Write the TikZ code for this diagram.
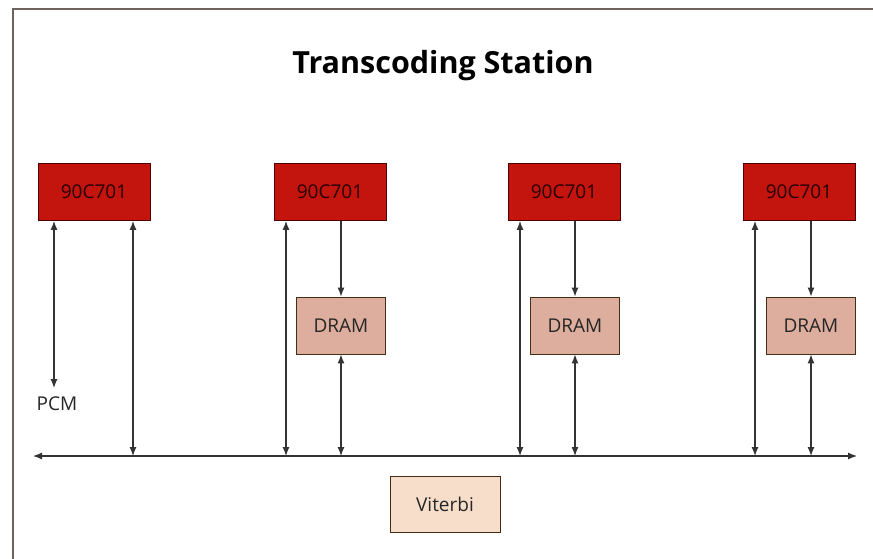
\documentclass[tikz,border=0pt]{standalone}
\usepackage{fontspec}
\setmainfont{Open Sans}
\usetikzlibrary{arrows.meta}
\definecolor{chipred}{HTML}{C4140E}
\definecolor{dramfill}{HTML}{DDAE9E}
\definecolor{vitfill}{HTML}{F6DECB}
\definecolor{framecol}{HTML}{6E625C}
\definecolor{linecol}{HTML}{333333}
\tikzset{
  chip/.style={draw=black!70!red, line width=0.8pt, fill=chipred, minimum width=112pt, minimum height=57pt, inner sep=0pt, text=black!85!red, font=\fontsize{19}{19}\selectfont},
  ram/.style={draw=black!65!brown, line width=0.8pt, fill=dramfill, minimum width=89pt, minimum height=57pt, inner sep=0pt, text=black!85, font=\fontsize{19}{19}\selectfont},
  vit/.style={draw=black!65!brown, line width=0.8pt, fill=vitfill, minimum width=110pt, minimum height=56pt, inner sep=0pt, text=black!85, font=\fontsize{19}{19}\selectfont},
  link/.style={draw=linecol, line width=1.2pt, -{Latex[length=9pt,width=7pt]}},
  dbl/.style={draw=linecol, line width=1.2pt, {Latex[length=9pt,width=7pt]}-{Latex[length=9pt,width=7pt]}}
}
\begin{document}
\begin{tikzpicture}[x=1pt,y=-1pt]
\useasboundingbox (0,0) rectangle (873,559);
\fill[white] (0,0) rectangle (873,559);
% frame
\draw[framecol, line width=1.4pt] (873,9) -- (13,9) -- (13,559);
% title
\node (title) at (443,66) {\fontsize{30.5}{30.5}\selectfont\bfseries Transcoding Station};
% processors
\node[chip] (c1) at (94,192) {90C701};
\node[chip] (c2) at (330,192) {90C701};
\node[chip] (c3) at (564,192) {90C701};
\node[chip] (c4) at (799,192) {90C701};
% memories
\node[ram] (d2) at (341,325.5) {DRAM};
\node[ram] (d3) at (575,325.5) {DRAM};
\node[ram] (d4) at (811,325.5) {DRAM};
\node[vit] (vit) at (445,504) {Viterbi};
\node[font=\fontsize{19}{19}\selectfont, text=black!85] (pcm) at (57,404) {PCM};
% bus
\coordinate (busl) at (33,456);
\coordinate (busr) at (857,456);
\draw[dbl] (busl) -- (busr);
\coordinate (p0) at (54,388);
\coordinate (b1) at (133,456);
\coordinate (b2) at (286,456);
\coordinate (b3) at (520,456);
\coordinate (b4) at (755,456);
\draw[dbl] (c1.south -| p0) -- (p0);
\draw[dbl] (c1.south -| b1) -- (b1);
\draw[dbl] (c2.south -| b2) -- (b2);
\draw[dbl] (c3.south -| b3) -- (b3);
\draw[dbl] (c4.south -| b4) -- (b4);
% chip to dram
\draw[link] (c2.south -| d2) -- (d2.north);
\draw[link] (c3.south -| d3) -- (d3.north);
\draw[link] (c4.south -| d4) -- (d4.north);
\draw[dbl] (d2.south) -- (d2.south |- busl);
\draw[dbl] (d3.south) -- (d3.south |- busl);
\draw[dbl] (d4.south) -- (d4.south |- busl);
\end{tikzpicture}
\end{document}
